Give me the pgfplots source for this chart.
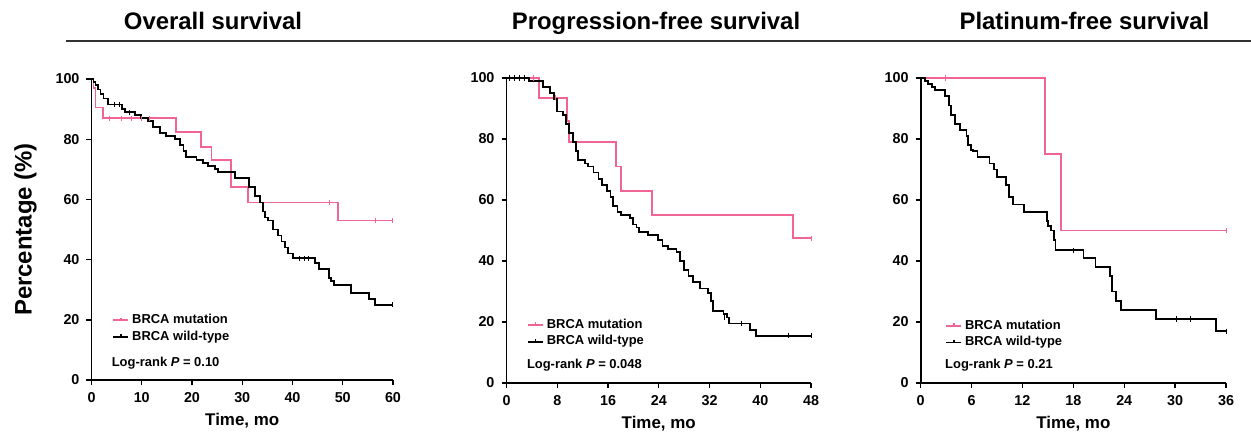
\documentclass[border=0pt]{standalone}
\usepackage{fontspec}
\setmainfont{Liberation Sans}
\usepackage{pgfplots}
\pgfplotsset{compat=1.18}
\definecolor{brcapink}{RGB}{240,100,150}

\pgfplotsset{
  kmaxis/.style={
    scale only axis,
    anchor=south west,
    axis lines*=left,
    axis line style={line width=0.8bp},
    tick align=outside,
    major tick length=2.5bp,
    tick style={line width=0.7bp, black},
    ymin=0, ymax=100,
    ytick={0,20,40,60,80,100},
    ticklabel style={font=\bfseries\fontsize{7.2}{8}\selectfont},
    /pgf/number format/assume math mode=true,
    xlabel={Time, mo},
    xlabel style={font=\bfseries\fontsize{8.5}{10}\selectfont, at={(axis description cs:0.5,0)}, anchor=center, yshift=-20.5bp},
    clip=false,
    legend cell align=left,
    legend style={draw=none, fill=none, inner sep=0pt, anchor=west,
      font=\bfseries\fontsize{6.5}{7}\selectfont, row sep=0.6bp,
      nodes={inner xsep=1.5bp, inner ysep=0.8bp}},
    legend image code/.code={
      \draw[#1] (0bp,0bp) -- (7.5bp,0bp);
      \draw[#1] (3.75bp,0bp) -- (3.75bp,1.3bp);},
  },
  pinkline/.style={brcapink, line width=0.9bp, const plot, mark=none},
  blackline/.style={black, line width=0.9bp, const plot, mark=none},
  pinkcens/.style={brcapink, only marks, mark=|, mark size=1.3bp, mark options={line width=0.5bp}, forget plot},
  blackcens/.style={black, only marks, mark=|, mark size=1.3bp, mark options={line width=0.5bp}, forget plot},
}

\begin{document}
\begin{tikzpicture}
\path[use as bounding box] (0,0) rectangle (625.5bp,-218bp);

% titles and rule
\node[font=\bfseries\fontsize{12}{14}\selectfont, anchor=base] at (106.5bp,-14.5bp) {Overall survival};
\node[font=\bfseries\fontsize{12}{14}\selectfont, anchor=base] at (328bp,-14.5bp) {Progression-free survival};
\node[font=\bfseries\fontsize{12}{14}\selectfont, anchor=base] at (542.25bp,-14.5bp) {Platinum-free survival};
\draw[line width=0.75bp, black!80] (33bp,-20.5bp) -- (625.5bp,-20.5bp);

% ---------- Overall survival
\begin{axis}[kmaxis,
  at={(45.75bp,-190bp)}, width=150.75bp, height=150.5bp,
  xmin=0, xmax=60, xtick={0,10,20,30,40,50,60},
  ylabel={Percentage (\%)},
  ylabel style={font=\bfseries\fontsize{12}{14}\selectfont, at={(axis description cs:-0.219,0.5)}, anchor=center},
  legend style={at={(axis description cs:0.068,0.171)}},
]
\addplot[pinkline] coordinates {(0,100) (0.4,97) (0.8,90.5) (2.3,87) (16.8,82.5) (21.8,77.5) (23.9,73) (27.7,64) (31.2,59) (49.1,53) (60,53)};
\addlegendentry{BRCA mutation}
\addplot[blackline] coordinates {(0,100) (0.4,99) (0.8,98) (1.3,96.5) (1.8,95) (2.4,93.5) (3.3,91.5) (6.0,90) (6.6,89) (8.6,88) (9.9,87) (11.2,86) (12.3,84) (13.6,82) (14.9,81) (16.6,80) (17.6,78) (18.3,76) (18.8,74) (20.9,73) (22.2,72) (23.2,71) (24.5,70) (25.2,69) (28.5,67) (31.4,64) (32.5,61) (33.5,59) (34.1,56) (34.5,54) (35.1,53) (36.1,50) (37.1,48) (37.8,46) (38.5,44) (39.1,42) (40.1,40.5) (44.4,39) (45.3,37) (47.3,34) (47.6,33) (48.2,31.5) (51.7,29) (55.2,27) (56.4,25) (60,25)};
\addlegendentry{BRCA wild-type}
\addplot[pinkcens] coordinates {(3.6,87) (6.0,87) (8.0,87) (9.9,87) (11.6,87) (47.3,59) (56.6,53) (60,53)};
\addplot[blackcens] coordinates {(4.5,91.5) (5.5,91.5) (7.5,89) (41.4,40.5) (42.4,40.5) (43.1,40.5) (60,25)};
\node[anchor=west, font=\bfseries\fontsize{6.5}{7}\selectfont, inner sep=0pt] at (axis description cs:0.066,0.056) {Log-rank \textit{P} = 0.10};
\end{axis}

% ---------- Progression-free survival
\begin{axis}[kmaxis,
  at={(253.25bp,-191.5bp)}, width=152.25bp, height=152.5bp,
  xmin=0, xmax=48, xtick={0,8,16,24,32,40,48},
  legend style={at={(axis description cs:0.066,0.163)}},
]
\addplot[pinkline] coordinates {(0,100) (5.15,93.5) (9.5,86) (9.9,79) (17.2,71) (18.0,63) (22.9,55) (45.1,47.5) (48,47.5)};
\addlegendentry{BRCA mutation}
\addplot[blackline] coordinates {(0,100) (3.6,99) (5.8,97) (6.8,95) (7.5,93) (7.9,89) (8.9,88) (9.4,85) (9.9,82) (10.5,79) (10.9,76) (11.3,73) (12.4,72) (12.9,71) (13.7,69) (14.5,67) (15.0,65) (15.8,63) (16.4,61) (16.8,58) (17.5,56) (18.1,55) (19.5,54) (20.0,52) (20.5,51) (20.9,49.5) (22.3,48.5) (23.9,47) (24.6,45) (25.5,44) (26.8,43) (27.3,40) (28.0,37) (28.7,35) (29.4,33) (30.5,31) (31.8,29.5) (32.2,27) (32.6,23.5) (34.2,22.5) (34.7,21.5) (35.1,19.5) (38.4,17.5) (39.3,15.5) (48,15.5)};
\addlegendentry{BRCA wild-type}
\addplot[pinkcens] coordinates {(4.2,100) (7.8,93.5) (48,47.5)};
\addplot[blackcens] coordinates {(0.5,100) (1.3,100) (2.1,100) (2.9,100) (34.4,21.5) (37.1,19.5) (44.4,15.5) (48,15.5)};
\node[anchor=west, font=\bfseries\fontsize{6.5}{7}\selectfont, inner sep=0pt] at (axis description cs:0.066,0.059) {Log-rank \textit{P} = 0.048};
\end{axis}

% ---------- Platinum-free survival
\begin{axis}[kmaxis,
  at={(460.35bp,-191.5bp)}, width=152.65bp, height=152.5bp,
  xmin=0, xmax=36, xtick={0,6,12,18,24,30,36},
  legend style={at={(axis description cs:0.079,0.16)}},
]
\addplot[pinkline] coordinates {(0,100) (14.66,75) (16.5,50) (36,50)};
\addlegendentry{BRCA mutation}
\addplot[blackline] coordinates {(0,100) (0.5,99) (0.9,98) (1.3,97) (1.7,96) (2.9,94) (3.3,91) (3.6,88) (4.0,85) (4.6,83) (5.4,81) (5.6,78) (5.9,76.5) (6.2,76) (6.7,74) (8.1,72) (8.6,70) (9.0,67.5) (10.1,65) (10.4,61) (10.9,58.5) (12.2,56) (14.9,53) (15.05,51.5) (15.4,50) (15.7,47) (15.9,43.5) (19.2,41) (20.6,38) (22.3,35) (22.6,30) (23.0,27) (23.6,24) (27.7,21) (34.8,17) (36,17)};
\addlegendentry{BRCA wild-type}
\addplot[pinkcens] coordinates {(2.9,100) (36,50)};
\addplot[blackcens] coordinates {(18.0,43.5) (30.2,21) (31.8,21) (36,17)};
\node[anchor=west, font=\bfseries\fontsize{6.5}{7}\selectfont, inner sep=0pt] at (axis description cs:0.079,0.059) {Log-rank \textit{P} = 0.21};
\end{axis}
\end{tikzpicture}
\end{document}
